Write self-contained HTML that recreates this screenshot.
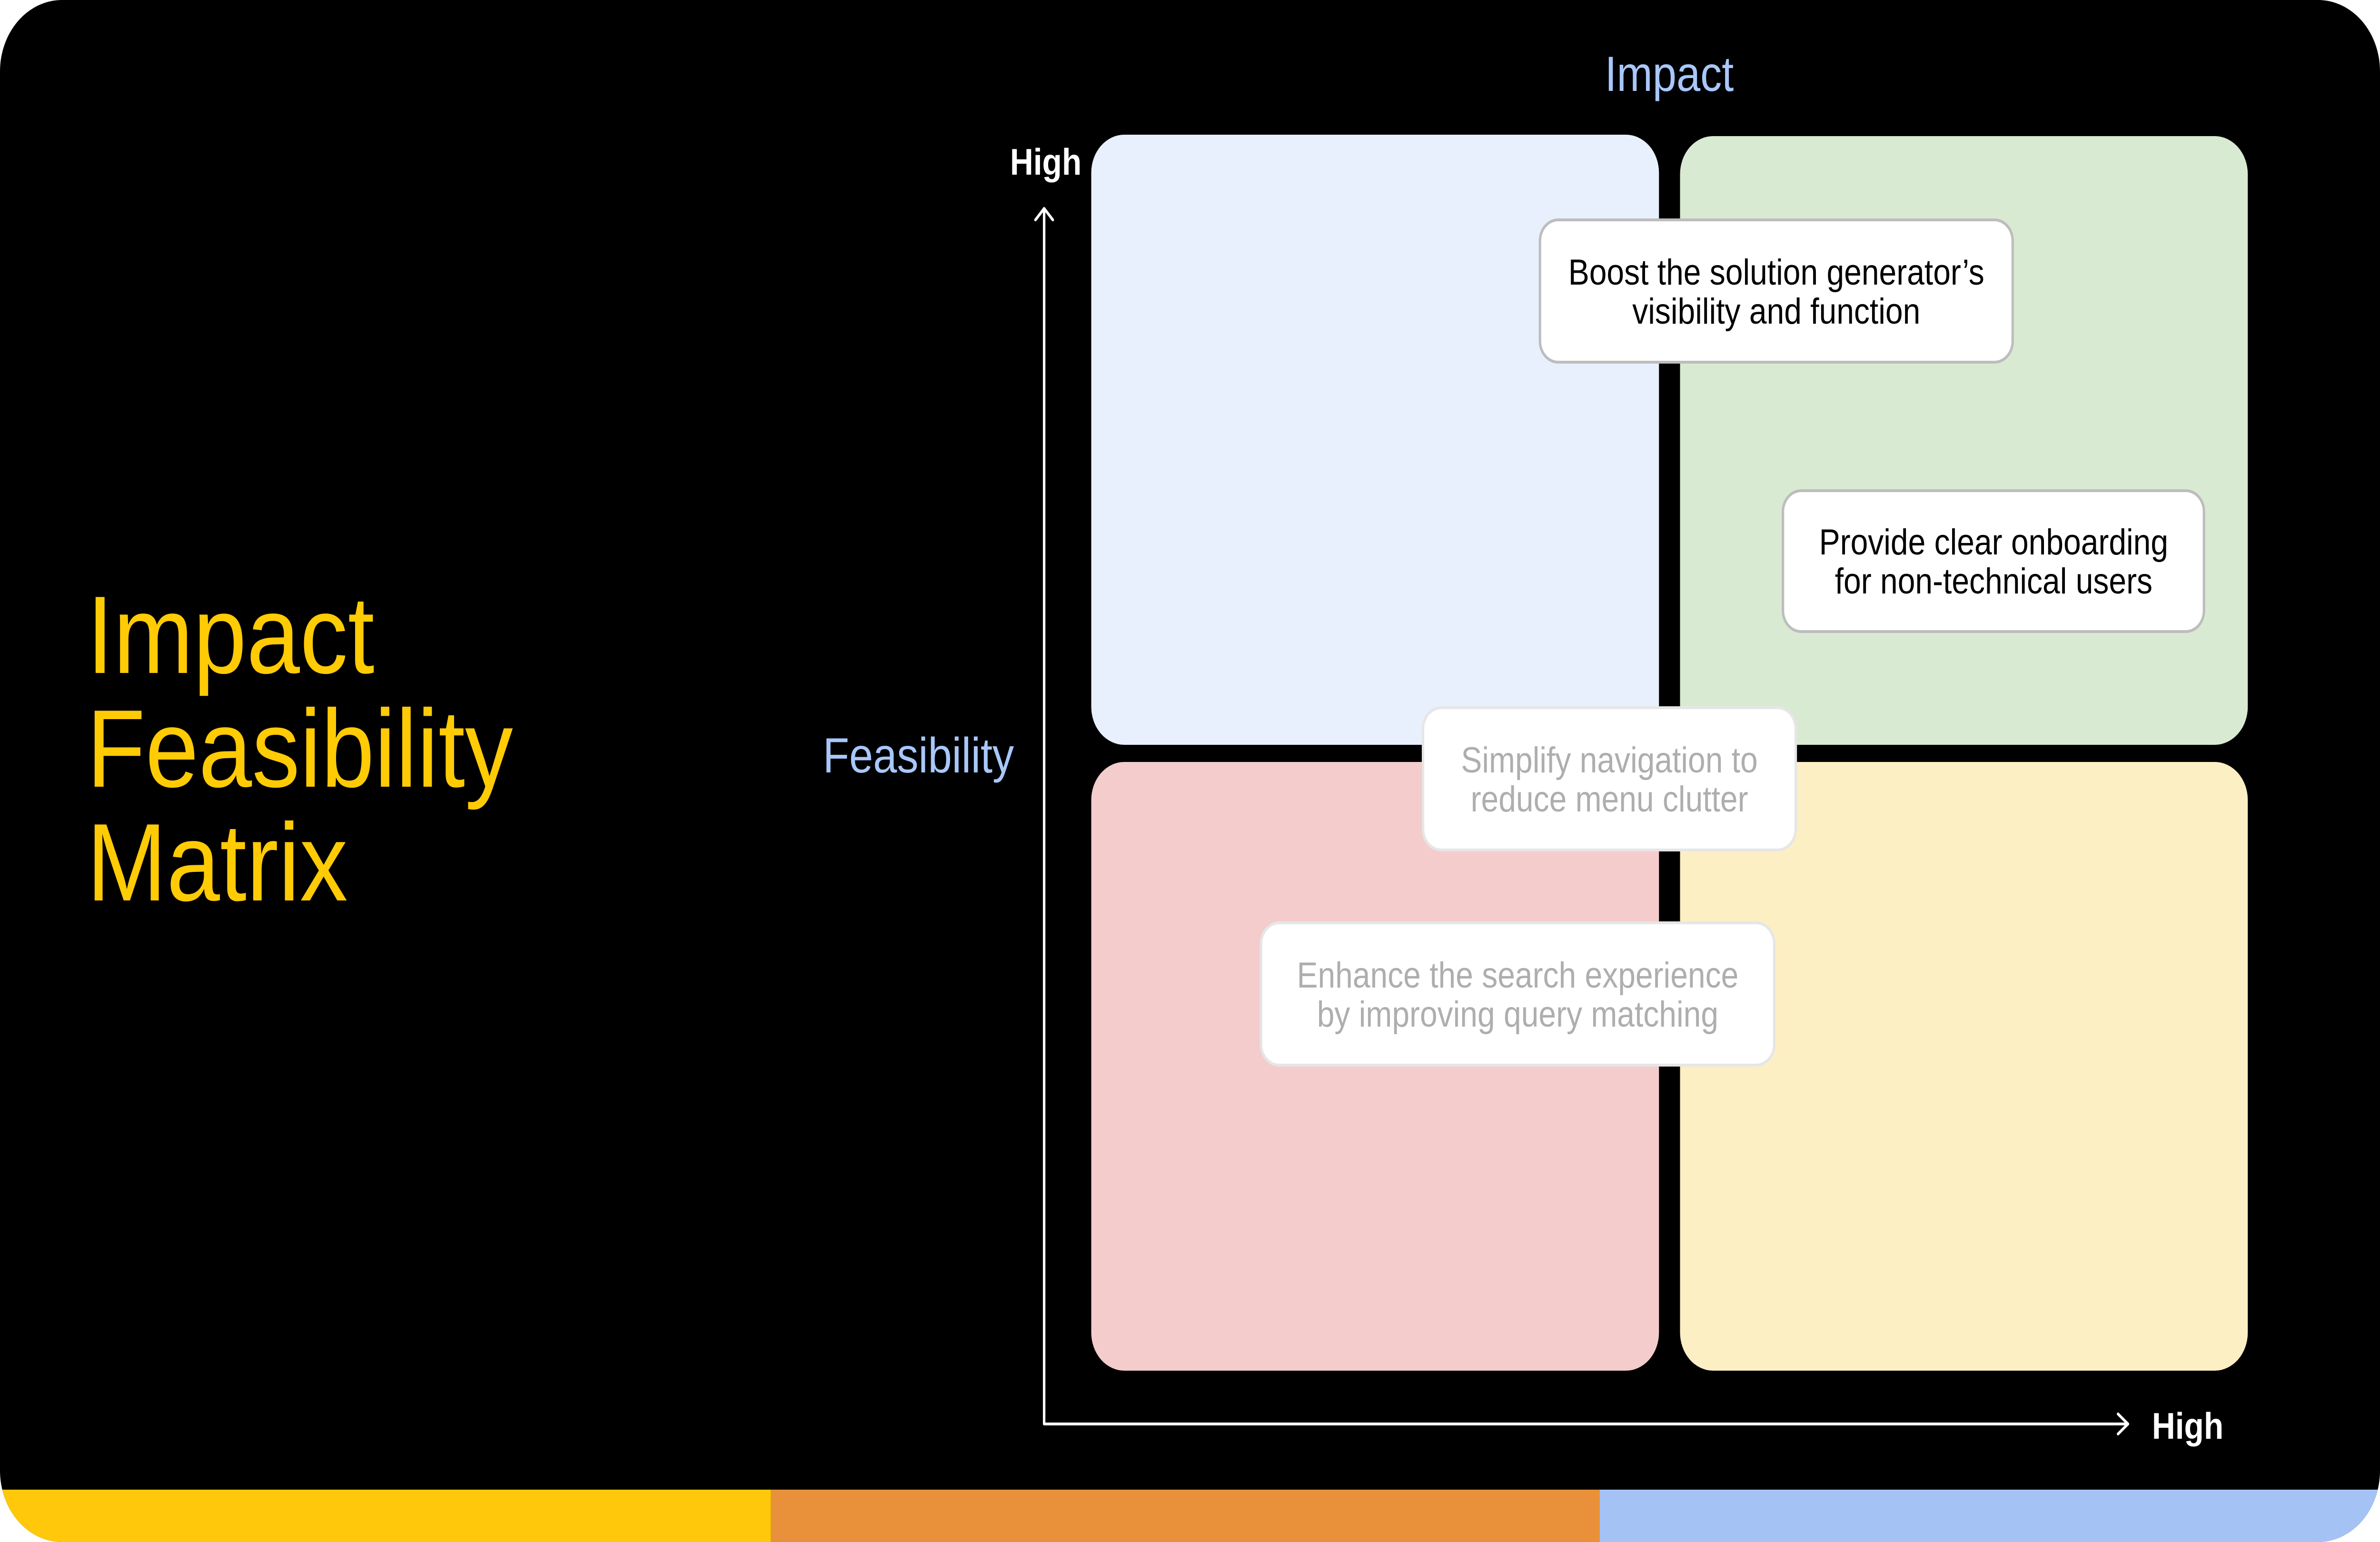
<!DOCTYPE html>
<html><head><meta charset="utf-8"><style>
html,body{margin:0;padding:0;background:#fff;width:100vw;height:100vh;overflow:hidden;}
svg{display:block;width:100vw;height:100vh;}
text{font-family:"Liberation Sans",sans-serif;}
</style></head><body>
<svg viewBox="0 0 5760 3240" preserveAspectRatio="none" xmlns="http://www.w3.org/2000/svg">
<defs><clipPath id="cl"><rect x="0" y="0" width="5760" height="3240" rx="150" ry="150"/></clipPath></defs>
<rect width="5760" height="3240" fill="#fff"/>
<g clip-path="url(#cl)">
<rect width="5760" height="3240" fill="#000"/>
<rect x="0" y="3130" width="1866" height="110" fill="#FFC80A"/>
<rect x="1866" y="3130" width="2005" height="110" fill="#E8913A"/>
<rect x="3871" y="3130" width="1889" height="110" fill="#A4C2F4"/>
</g>
<g fill="#FFCB05" font-size="232">
<text x="210" y="1414">Impact</text>
<text x="210" y="1653">Feasibility</text>
<text x="210" y="1892">Matrix</text>
</g>
<text x="4040" y="191" font-size="104" fill="#A8C7FA" text-anchor="middle">Impact</text>
<text x="2454" y="1623" font-size="104" fill="#A8C7FA" text-anchor="end">Feasibility</text>
<text x="2531" y="367" font-size="78" font-weight="bold" fill="#fff" text-anchor="middle">High</text>
<text x="5208" y="3023" font-size="78" font-weight="bold" fill="#fff">High</text>
<g stroke="#fff" stroke-width="6" fill="none" stroke-linecap="round" stroke-linejoin="round">
<path d="M2527 438 V2992 H5150"/>
<path d="M2506 462 L2527 438 L2548 462"/>
<path d="M5126 2971 L5150 2992 L5126 3013"/>
</g>
<rect x="2641" y="283" width="1374" height="1282" rx="80" fill="#E8F0FE"/>
<rect x="4066" y="286" width="1374" height="1279" rx="80" fill="#D9EAD3"/>
<rect x="2641" y="1601" width="1374" height="1279" rx="80" fill="#F4CCCC"/>
<rect x="4066" y="1601" width="1374" height="1279" rx="80" fill="#FCEFC4"/>
<g font-size="76" text-anchor="middle">
<rect x="3727" y="462" width="1144" height="299" rx="44" fill="#fff" stroke="#bdbdbd" stroke-width="6"/>
<text x="4299" y="598" fill="#000">Boost the solution generator’s</text>
<text x="4299" y="680" fill="#000">visibility and function</text>
<rect x="4315" y="1031" width="1019" height="296" rx="44" fill="#fff" stroke="#bdbdbd" stroke-width="6"/>
<text x="4825" y="1165" fill="#000">Provide clear onboarding</text>
<text x="4825" y="1247" fill="#000">for non-technical users</text>
<rect x="3444" y="1487" width="902" height="299" rx="44" fill="#fff" stroke="#e6e6e6" stroke-width="6"/>
<text x="3895" y="1623" fill="#aeaeae">Simplify navigation to</text>
<text x="3895" y="1705" fill="#aeaeae">reduce menu clutter</text>
<rect x="3052" y="1939" width="1242" height="299" rx="44" fill="#fff" stroke="#e6e6e6" stroke-width="6"/>
<text x="3673" y="2075" fill="#aeaeae">Enhance the search experience</text>
<text x="3673" y="2157" fill="#aeaeae">by improving query matching</text>
</g>
</svg>
</body></html>
